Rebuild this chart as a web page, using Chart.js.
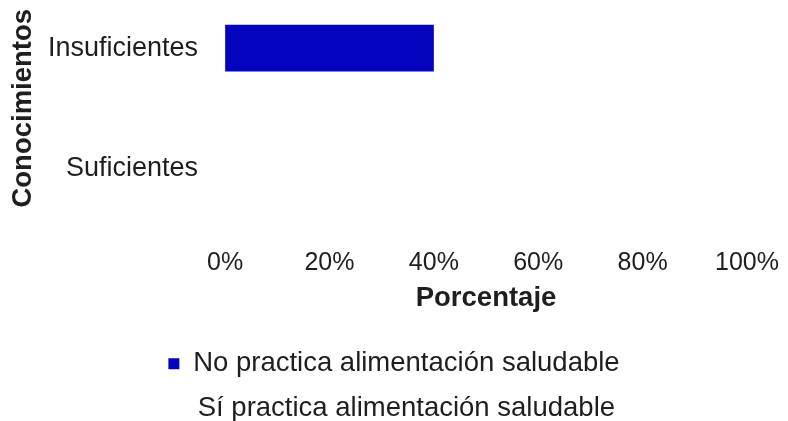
<!DOCTYPE html>
<html lang="es">
<head>
<meta charset="UTF-8">
<title>Conocimientos y alimentación saludable</title>
<script src="https://cdn.jsdelivr.net/npm/chart.js"></script>
<style>
    html, body {
        margin: 0;
        padding: 0;
        background: #ffffff;
        overflow: hidden;
    }
    #wrap {
        position: absolute;
        left: 0;
        top: -20px;
        width: 788px;
        height: 452px;
    }
</style>
</head>
<body>
<div id="wrap"><canvas id="grafico"></canvas></div>

<script>
    // categorías del eje y
    const categorias = ['Insuficientes', 'Suficientes'];
    // porcentajes por serie (barras apiladas al 100 %)
    const noPractica = [40, 0];
    const siPractica = [60, 100];
    // marcas del eje x
    const marcasX = [0, 20, 40, 60, 80, 100];

    const fuente = '"Liberation Sans", Arial, sans-serif';
    const colorTexto = '#1e1e1e';

    new Chart(document.getElementById('grafico'), {
        type: 'bar',
        data: {
            labels: categorias,
            datasets: [
                {
                    label: 'No practica alimentación saludable',
                    data: noPractica,
                    backgroundColor: '#0404BF',
                    borderWidth: 0
                },
                {
                    label: 'Sí practica alimentación saludable',
                    data: siPractica,
                    backgroundColor: '#ffffff',
                    borderWidth: 0
                }
            ]
        },
        options: {
            indexAxis: 'y',
            responsive: true,
            maintainAspectRatio: false,
            animation: false,
            datasets: {
                bar: { barPercentage: 0.39, categoryPercentage: 1 }
            },
            layout: { padding: { top: 8, right: 0, bottom: 0, left: 0 } },
            scales: {
                x: {
                    stacked: true,
                    min: 0,
                    max: 100,
                    afterBuildTicks: (eje) => {
                        eje.ticks = marcasX.map(v => ({ value: v }));
                    },
                    // margen fijo a la derecha del área de trazado
                    afterFit: (eje) => {
                        eje.paddingLeft = 0;
                        eje.paddingRight = 41;
                    },
                    grid: { display: false, drawTicks: false },
                    border: { display: false },
                    ticks: {
                        padding: 20,
                        color: colorTexto,
                        font: { family: fuente, size: 25 },
                        callback: (v) => v + '%'
                    },
                    title: {
                        display: true,
                        text: 'Porcentaje',
                        color: colorTexto,
                        font: { family: fuente, size: 27.5, weight: 'bold' },
                        padding: { top: -17, bottom: 18.5 }
                    }
                },
                y: {
                    stacked: true,
                    afterFit: (eje) => {
                        eje.paddingTop = 0;
                        eje.paddingBottom = 0;
                    },
                    grid: { display: false, drawTicks: false },
                    border: { display: false },
                    ticks: {
                        padding: 27,
                        color: colorTexto,
                        font: { family: fuente, size: 27 }
                    },
                    title: {
                        display: true,
                        text: 'Conocimientos',
                        color: colorTexto,
                        font: { family: fuente, size: 27.5, weight: 'bold' },
                        padding: { top: 6.5, bottom: -18.5 }
                    }
                }
            },
            plugins: {
                legend: {
                    position: 'bottom',
                    labels: {
                        boxWidth: 11,
                        boxHeight: 11,
                        padding: 17,
                        color: colorTexto,
                        font: { family: fuente, size: 27.5 }
                    }
                },
                tooltip: { enabled: false }
            }
        }
    });
</script>
</body>
</html>
